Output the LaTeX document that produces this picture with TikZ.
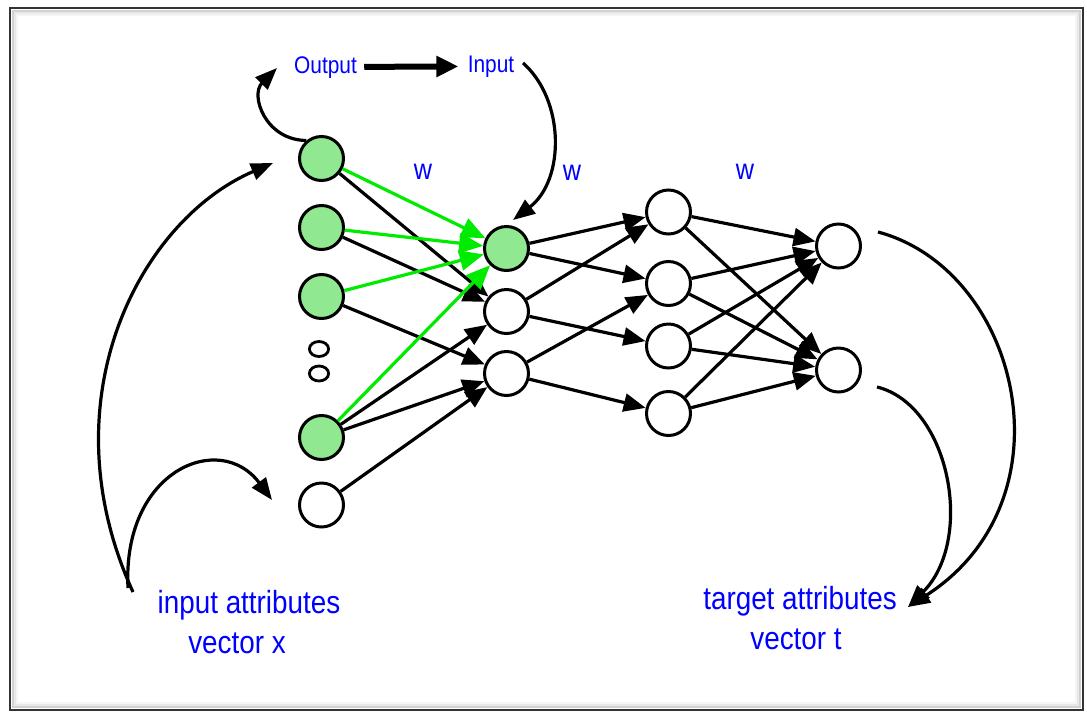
\documentclass[tikz,border=0pt]{standalone}
\usepackage{fontspec}
\setmainfont[FakeStretch=0.87]{Liberation Sans}
\usetikzlibrary{arrows.meta,shapes.geometric}

\definecolor{actgreen}{RGB}{144,232,144}
\definecolor{linkgreen}{RGB}{0,235,0}

\begin{document}
\begin{tikzpicture}[x=0.5pt,y=-0.5pt]

        \tikzset{
          neuron/.style={circle, draw, line width=1.5pt, minimum size=22pt, inner sep=0pt, fill=white},
          active/.style={neuron, fill=actgreen},
          gap/.style={ellipse, draw, line width=1.4pt, minimum width=9.6pt, minimum height=7.5pt, inner sep=0pt},
          link/.style={line width=1.6pt, -{Triangle[length=11pt,width=9pt]}},
          hotlink/.style={link, draw=linkgreen, fill=linkgreen, -{Triangle[length=12pt,width=10pt]}},
          loopback/.style={line width=1.6pt, -{Triangle[length=11pt,width=8.5pt]}},
          lbl/.style={text=blue, inner sep=0pt, anchor=base},
        }

        \useasboundingbox (0,0) rectangle (1087,713);

        % Frame with shadow
        \foreach \d/\c in {7/gray!8, 5/gray!18, 3/gray!35} {
          \draw[\c, line width=1.2pt] (10+\d,8+\d) rectangle (1083-\d,710-\d);
        }
        \draw[black!80, line width=1.1pt] (10,8) rectangle (1083,710);

        % Input layer
        \foreach \n/\y in {1/158.5, 2/227.5, 3/296.5, 4/437.5} {
          \node[active] (a\n) at (321.5,\y) {};
        }
        \node[neuron] (a5) at (321.5,505) {};
        \node[gap] (d1) at (319,349) {};
        \node[gap] (d2) at (319,373.5) {};

        % Hidden layers
        \node[active] (b1) at (506.5,248.5) {};
        \node[neuron] (b2) at (506.5,311.5) {};
        \node[neuron] (b3) at (506.5,373.5) {};
        \foreach \n/\y in {1/212, 2/283.5, 3/346, 4/413.5} {
          \node[neuron] (c\n) at (668.5,\y) {};
        }

        % Output layer
        \node[neuron] (e1) at (838.5,246) {};
        \node[neuron] (e2) at (838.5,370) {};

        % Weights
        \foreach \s/\t in {a1/b2, a2/b2, a3/b3, a4/b2, a4/b3, a5/b3,
                           b1/c1, b1/c2, b2/c1, b2/c3, b3/c2, b3/c4} {
          \draw[link] (\s) -- (\t);
        }
        \foreach \s in {1,2,3,4} {
          \foreach \t in {1,2} {
            \draw[link] (c\s) -- (e\t);
          }
        }
        \foreach \s in {a1,a2,a3,a4} {
          \draw[hotlink] (\s) -- (b1);
        }

        % Labels
        \node[lbl, font=\fontsize{12}{14}\selectfont] (out) at (325.5,73) {Output};
        \node[lbl, font=\fontsize{12}{14}\selectfont] (in) at (491,72) {Input};
        \foreach \x/\y [count=\i] in {423/179, 572/180, 745/179} {
          \node[lbl, font=\fontsize{14.5}{16}\selectfont] (w\i) at (\x,\y) {w};
        }
        \node[lbl, font=\fontsize{16}{19}\selectfont] (xattr) at (249,613) {input attributes};
        \node[lbl, font=\fontsize{16}{19}\selectfont] (xvec) at (237,653) {vector x};
        \node[lbl, font=\fontsize{16}{19}\selectfont] (tattr) at (800,609) {target attributes};
        \node[lbl, font=\fontsize{16}{19}\selectfont] (tvec) at (796,649) {vector t};

        \draw[line width=3pt, shorten <=3.5pt, shorten >=4.5pt,
              -{Triangle[length=11pt,width=10pt]}] (out) -- (in);

        % Feedback curves
        \coordinate (xsrc) at (133,592);
        \coordinate (xtip) at (273,163);
        \coordinate (xsrc2) at (128,588);
        \coordinate (xtip2) at (272,500);
        \coordinate (otip) at (277,68);
        \coordinate (isrc) at (523,63);
        \coordinate (itip) at (513,220);
        \coordinate (tsrc1) at (878,232);
        \coordinate (tsrc2) at (877,387);
        \coordinate (ttip) at (908,607);

        \draw[loopback] (xsrc) .. controls (45,400) and (140,220) .. (xtip);
        \draw[loopback] (xsrc2) .. controls (122,470) and (220,430) .. (xtip2);
        \draw[loopback] (a1.130) .. controls (265,140) and (250,95) .. (otip);
        \draw[loopback] (isrc) .. controls (565,100) and (565,180) .. (itip);
        \draw[loopback] (tsrc1) .. controls (1020,270) and (1075,500) .. (ttip);
        \draw[loopback] (tsrc2) .. controls (950,405) and (975,540) .. (ttip);

      \end{tikzpicture}
\end{document}
